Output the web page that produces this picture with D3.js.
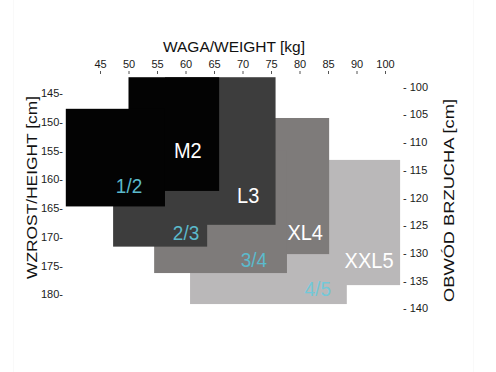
<!DOCTYPE html>
<html>
<head>
<meta charset="utf-8">
<script src="https://cdn.jsdelivr.net/npm/d3@7"></script>
<style>
  html, body { margin: 0; padding: 0; background: #fff; }
  svg { display: block; font-family: "Liberation Sans", Arial, sans-serif; }
  .axis path { display: none; }
  .axis text { fill: #1a1a1a; font-size: 11px; }
  .axis line { stroke: #555; }
</style>
</head>
<body>
<svg id="chart" width="496" height="372"></svg>
<script>
// tick labels of the three axes
var weightTicks = [45, 50, 55, 60, 65, 70, 75, 80, 85, 90, 100];
var heightTicks = [145, 150, 155, 160, 165, 170, 175, 180];
var bellyTicks = [100, 105, 110, 115, 120, 125, 130, 135, 140];

// main sizes (weight kg / height cm)
var sizeNames = ['M2', 'L3', 'XL4', 'XXL5'];
var sizeWeightMin = [50, 56.4, 63.8, 77.8];
var sizeWeightMax = [65.9, 75.8, 85.2, 105.3];
var sizeHeightMin = [142.2, 142.2, 149.3, 156.6];
var sizeHeightMax = [162, 167.9, 173, 178.4];
var sizeLabelWeight = [60.4, 71, 81, 94.4];
var sizeLabelHeight = [154.9, 162.7, 169.2, 174];

// in-between sizes
var halfNames = ['1/2', '2/3', '3/4', '4/5'];
var halfWeightMin = [39, 47.3, 54.5, 60.8];
var halfWeightMax = [56.4, 63.8, 77.8, 88.3];
var halfHeightMin = [147.7, 150, 155, 160];
var halfHeightMax = [164.7, 171.7, 176.3, 181.7];
var halfLabelWeight = [50.1, 60.1, 72, 83.2];
var halfLabelHeight = [161, 169.3, 174, 179.1];

var fills = ['#030303', '#3d3d3d', '#7e7b7a', '#bab8b9'];
var halfText = ['#5bb9cb', '#5bb9cb', '#5bbacc', '#72c8d8'];

var svg = d3.select('#chart');

// very faint frame of the original picture
svg.append('rect')
  .attr('x', 13.5).attr('y', -2)
  .attr('width', 460).attr('height', 380)
  .attr('fill', 'none')
  .attr('stroke', '#f9f9f9');

// weight labels are evenly spaced, so 90 -> 100 takes one step too
var x = d3.scaleLinear()
  .domain(weightTicks)
  .range(weightTicks.map(function (d, i) { return 100 + i * 28.5; }));

var y = d3.scaleLinear().domain([145, 180]).range([93.3, 294.3]);
var yBelly = d3.scaleLinear().domain([100, 140]).range([86.7, 308.3]);

var boxes = [];
for (var i = 0; i < sizeNames.length; i++) {
  boxes.push({ level: i, w0: sizeWeightMin[i], w1: sizeWeightMax[i], h0: sizeHeightMin[i], h1: sizeHeightMax[i] });
  boxes.push({ level: i, w0: halfWeightMin[i], w1: halfWeightMax[i], h0: halfHeightMin[i], h1: halfHeightMax[i] });
}
// lighter sizes go underneath
boxes.sort(function (a, b) { return b.level - a.level; });

svg.append('g').selectAll('rect')
  .data(boxes)
  .join('rect')
  .attr('x', function (d) { return x(d.w0); })
  .attr('y', function (d) { return y(d.h0); })
  .attr('width', function (d) { return x(d.w1) - x(d.w0); })
  .attr('height', function (d) { return y(d.h1) - y(d.h0); })
  .attr('fill', function (d) { return fills[d.level]; });

// size names
svg.append('g').selectAll('text')
  .data(sizeNames)
  .join('text')
  .attr('transform', function (d, i) {
    return 'translate(' + x(sizeLabelWeight[i]) + ',' + y(sizeLabelHeight[i]) + ') scale(1,1.1)';
  })
  .attr('text-anchor', 'middle')
  .attr('dy', '0.35em')
  .attr('font-size', 20)
  .attr('fill', '#fff')
  .text(function (d) { return d; });

svg.append('g').selectAll('text')
  .data(halfNames)
  .join('text')
  .attr('transform', function (d, i) {
    return 'translate(' + x(halfLabelWeight[i]) + ',' + y(halfLabelHeight[i]) + ') scale(1,1.1)';
  })
  .attr('text-anchor', 'middle')
  .attr('dy', '0.35em')
  .attr('font-size', 19)
  .attr('fill', function (d, i) { return halfText[i]; })
  .text(function (d) { return d; });

// axes
svg.append('g')
  .attr('class', 'axis')
  .attr('transform', 'translate(0,74)')
  .call(d3.axisTop(x).tickValues(weightTicks).tickSize(3).tickPadding(3).tickFormat(d3.format('d')));

svg.append('g')
  .attr('class', 'axis')
  .attr('transform', 'translate(64,0)')
  .call(d3.axisLeft(y).tickValues(heightTicks).tickSize(0).tickPadding(1)
    .tickFormat(function (d) { return d + '-'; }));

svg.append('g')
  .attr('class', 'axis')
  .attr('transform', 'translate(403,0)')
  .call(d3.axisRight(yBelly).tickValues(bellyTicks).tickSize(0).tickPadding(0)
    .tickFormat(function (d) { return '- ' + d; }));

// axis titles
svg.append('text')
  .attr('x', 234).attr('y', 51.7)
  .attr('text-anchor', 'middle')
  .attr('font-size', 15.5)
  .attr('fill', '#111')
  .text('WAGA/WEIGHT [kg]');

svg.append('text')
  .attr('transform', 'translate(36.5,187.5) rotate(-90)')
  .attr('text-anchor', 'middle')
  .attr('font-size', 15.5)
  .attr('textLength', 183)
  .attr('lengthAdjust', 'spacingAndGlyphs')
  .attr('fill', '#111')
  .text('WZROST/HEIGHT [cm]');

svg.append('text')
  .attr('transform', 'translate(454,200.5) rotate(-90)')
  .attr('text-anchor', 'middle')
  .attr('font-size', 15.5)
  .attr('textLength', 203)
  .attr('lengthAdjust', 'spacingAndGlyphs')
  .attr('fill', '#111')
  .text('OBWÓD BRZUCHA [cm]');
</script>
</body>
</html>
